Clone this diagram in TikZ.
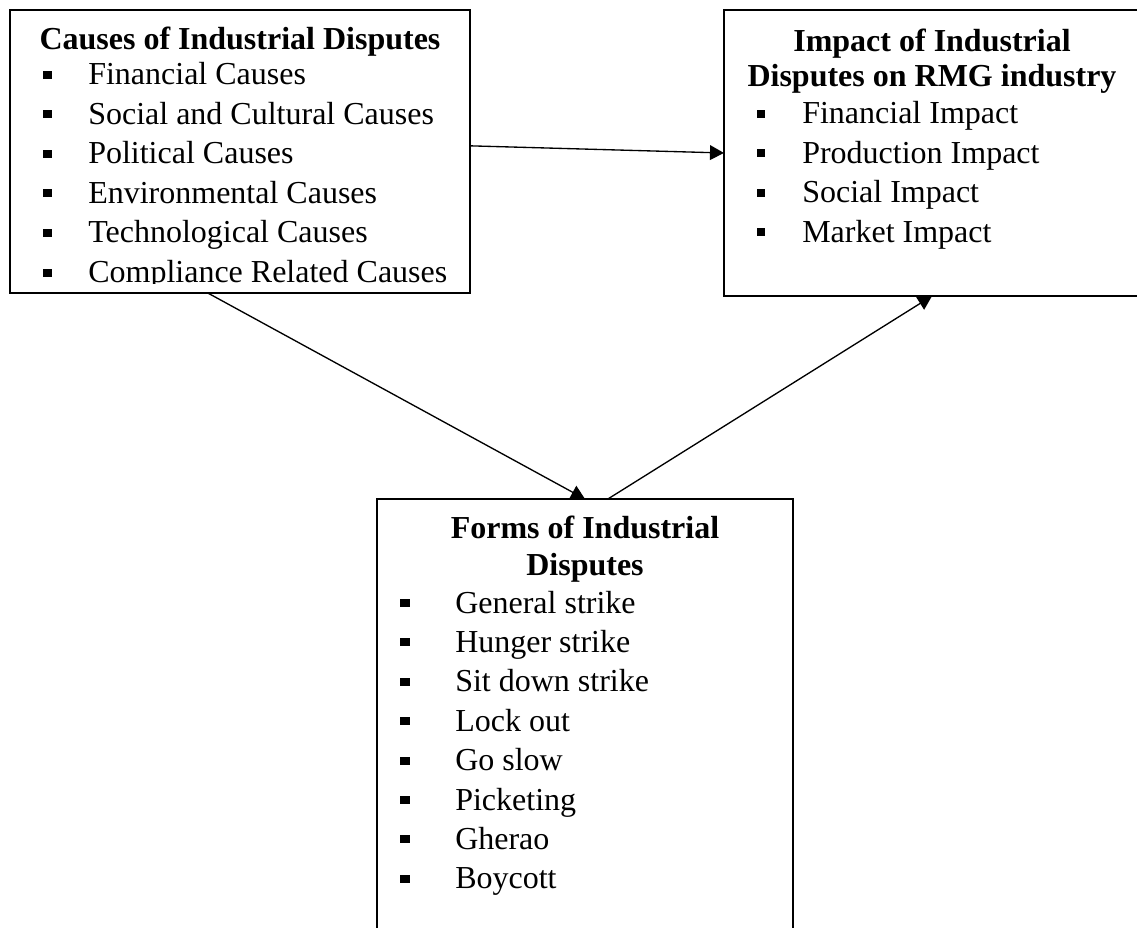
\documentclass[tikz,border=0pt]{standalone}
\usepackage{fontspec}
\setmainfont{Liberation Serif}
\usetikzlibrary{arrows.meta,calc,backgrounds}
\tikzset{
  box/.style={draw,line width=1.5pt,fill=white,inner sep=0pt,outer sep=0pt,anchor=north west},
  heading/.style={font=\fontsize{24pt}{30pt}\selectfont\bfseries,inner sep=0pt,anchor=base},
  entry/.style={font=\fontsize{24pt}{30pt}\selectfont,inner sep=0pt,anchor=base west},
  link/.style={line width=1pt,-{Triangle[length=10.5pt,width=11pt]}}
}
\begin{document}
\begin{tikzpicture}[x=0.75pt,y=-0.75pt]
    \useasboundingbox (0,0) rectangle (1137,927);
    % the three boxes
    \node[box,minimum width=345pt,minimum height=212.25pt] (causes) at (10,10) {};
    \node[box,minimum width=312pt,minimum height=214.5pt] (impact) at (724,10) {};
    \node[box,minimum width=312pt,minimum height=352.5pt] (forms) at (377,499) {};
    \begin{scope}[on background layer]
        \draw[link] ($(causes.north east)!0.48!(causes.south east)$) -- (impact.west);
        \draw[link] ($(causes.south west)!0.43!(causes.south east)$) -- (forms.north);
        \draw[link] ($(forms.north west)!0.555!(forms.north east)$) -- (impact.south);
    \end{scope}
    % titles
    \node[heading] (causes-title) at (240,50) {Causes of Industrial Disputes};
    \node[heading] (impact-title-a) at (932,52) {Impact of Industrial};
    \node[heading] (impact-title-b) at (932,87) {Disputes on RMG industry};
    \node[heading] (forms-title-a) at (585,538) {Forms of Industrial};
    \node[heading] (forms-title-b) at (585,575) {Disputes};
    % lists
    \begin{scope}
        \clip (10,10) rectangle (470,283);
        \foreach \txt [count=\i from 0] in {Financial Causes,Social and Cultural Causes,Political Causes,Environmental Causes,Technological Causes,Compliance Related Causes}{
            \fill ({43},{85+39.5*\i-6}) rectangle +(9,-8);
            \node[entry] (causes-\i) at ({88},{85+39.5*\i}) {\txt};
        }
    \end{scope}
    \foreach \txt [count=\i from 0] in {Financial Impact,Production Impact,Social Impact,Market Impact}{
        \fill ({757},{124+39.4*\i-6}) rectangle +(8,-8);
        \node[entry] (impact-\i) at ({802},{124+39.4*\i}) {\txt};
    }
    \foreach \txt [count=\i from 0] in {General strike,Hunger strike,Sit down strike,Lock out,Go slow,Picketing,Gherao,Boycott}{
        \fill ({400},{613+39.4*\i-6}) rectangle +(10,-8);
        \node[entry] (forms-\i) at ({455},{613+39.4*\i}) {\txt};
    }
\end{tikzpicture}
\end{document}
